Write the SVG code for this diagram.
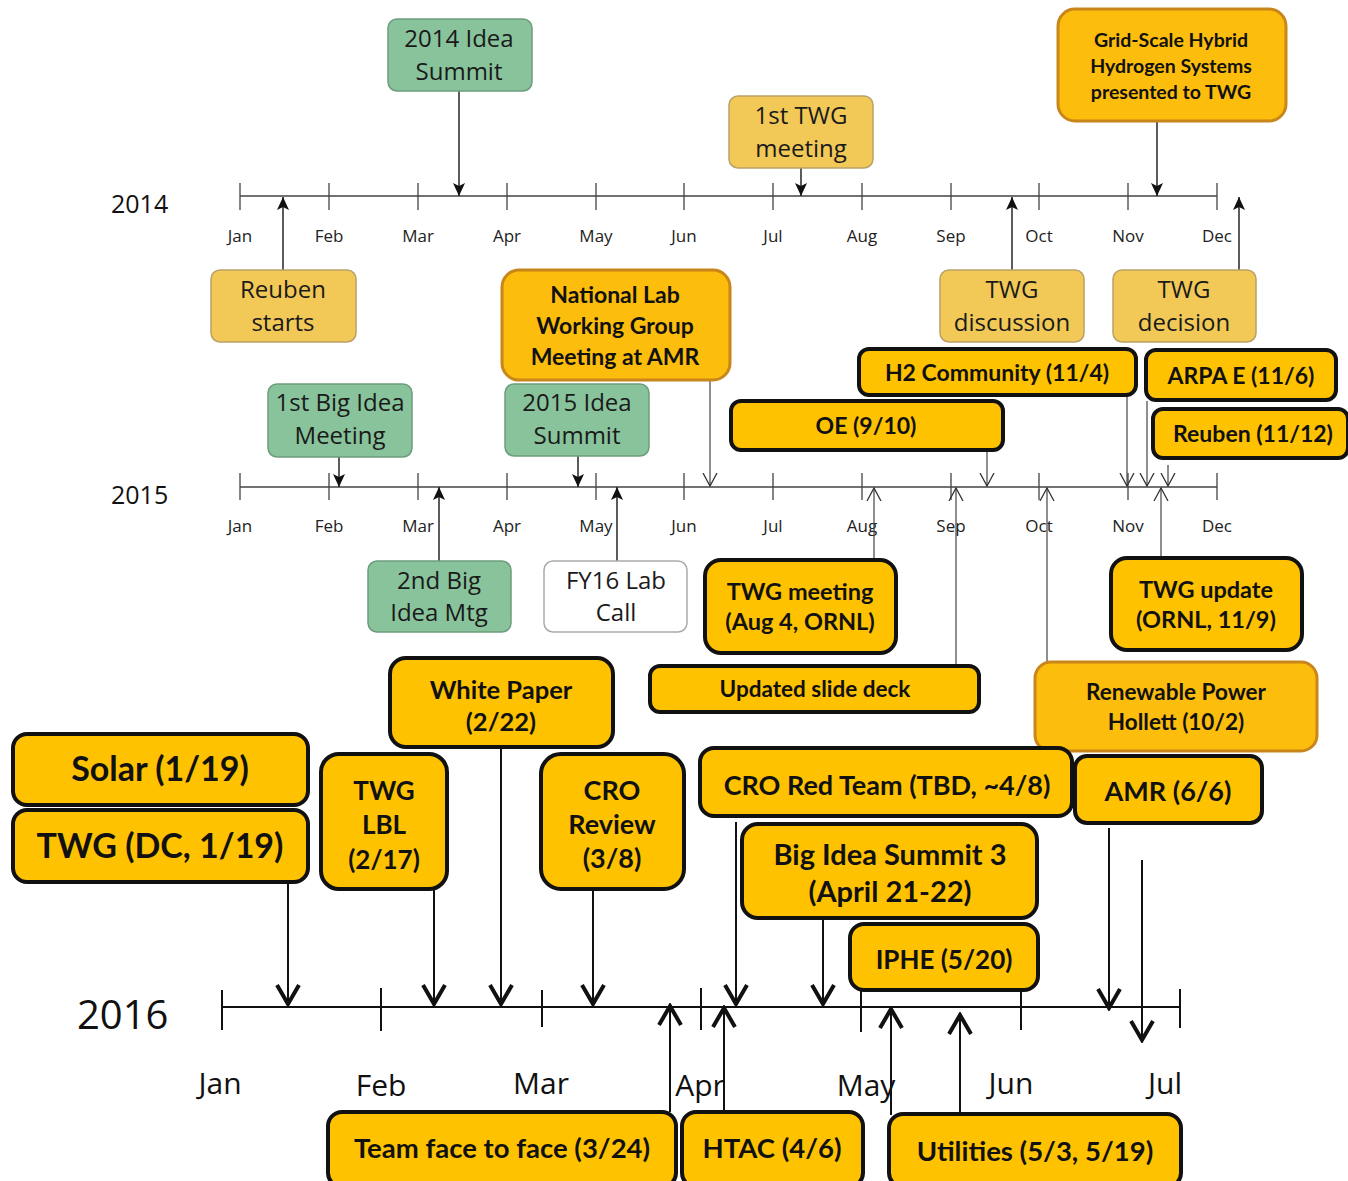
<svg xmlns="http://www.w3.org/2000/svg" width="1348" height="1181" viewBox="0 0 1348 1181">
<style>
  .axis { stroke:#444; stroke-width:1.3; fill:none; }
  .axis16 { stroke:#111; stroke-width:2; fill:none; }
  .conn { stroke:#333; stroke-width:1.6; fill:none; }
  .connt { stroke:#444; stroke-width:1.2; fill:none; }
  .conn16 { stroke:#111; stroke-width:2; fill:none; }
  .mon { font-family:"Open Sans","Liberation Sans",sans-serif; font-size:17px; font-weight:500; fill:#222; text-anchor:middle; }
  .mon16 { font-family:"Open Sans","Liberation Sans",sans-serif; font-size:30px; fill:#111; text-anchor:middle; }
  .year { font-family:"Open Sans","Liberation Sans",sans-serif; font-size:25px; fill:#111; }
  .green { fill:#88c39c; stroke:#6d9c7c; stroke-width:1.5; }
  .lyel { fill:#f2c957; stroke:#b9a168; stroke-width:1.5; }
  .white { fill:#fff; stroke:#aaa; stroke-width:1.5; }
  .gold { fill:#fdbd0c; stroke:#c8861b; stroke-width:3; }
  .blk { fill:#ffc200; stroke:#111; stroke-width:4; }
  .lt { font-family:"Open Sans","Liberation Sans",sans-serif; font-size:24px; fill:#1a1a1a; text-anchor:middle; }
  .bt { font-family:Lato,"Open Sans","Liberation Sans",sans-serif; font-weight:700; fill:#111; text-anchor:middle; }
</style>
<defs>
  <marker id="tri" viewBox="0 0 13 12" refX="13" refY="6" markerWidth="13" markerHeight="12" orient="auto" markerUnits="userSpaceOnUse">
    <path d="M0,0 L13,6 L0,12 L3,6 z" fill="#111"/>
  </marker>
  <marker id="vthin" viewBox="0 0 14 16" refX="13" refY="8" markerWidth="14" markerHeight="16" orient="auto" markerUnits="userSpaceOnUse">
    <path d="M0,1 L13,8 L0,15" fill="none" stroke="#333" stroke-width="1.3"/>
  </marker>
  <marker id="vthick" viewBox="0 0 24 26" refX="21" refY="13" markerWidth="24" markerHeight="26" orient="auto" markerUnits="userSpaceOnUse">
    <path d="M2,2 L21,13 L2,24" fill="none" stroke="#111" stroke-width="4" stroke-linejoin="miter"/>
  </marker>
</defs>
<rect width="1348" height="1181" fill="#fff"/>

<!-- Timelines -->
<g id="timeline-2014">
  <text class="year" x="111" y="213">2014</text>
  <path class="axis" d="M240,196 H1217 M240,183 V210 M329,183 V210 M418,183 V210 M507,183 V210 M596,183 V210 M684,183 V210 M773,183 V210 M862,183 V210 M951,183 V210 M1039,183 V210 M1128,183 V210 M1217,183 V210"/>
  <text class="mon" x="240" y="242">Jan</text><text class="mon" x="329" y="242">Feb</text><text class="mon" x="418" y="242">Mar</text><text class="mon" x="507" y="242">Apr</text><text class="mon" x="596" y="242">May</text><text class="mon" x="684" y="242">Jun</text><text class="mon" x="773" y="242">Jul</text><text class="mon" x="862" y="242">Aug</text><text class="mon" x="951" y="242">Sep</text><text class="mon" x="1039" y="242">Oct</text><text class="mon" x="1128" y="242">Nov</text><text class="mon" x="1217" y="242">Dec</text>
</g>
<g id="timeline-2015">
  <text class="year" x="111" y="504">2015</text>
  <path class="axis" d="M240,487 H1217 M240,473 V500 M329,473 V500 M418,473 V500 M507,473 V500 M596,473 V500 M684,473 V500 M773,473 V500 M862,473 V500 M951,473 V500 M1039,473 V500 M1128,473 V500 M1217,473 V500"/>
  <text class="mon" x="240" y="532">Jan</text><text class="mon" x="329" y="532">Feb</text><text class="mon" x="418" y="532">Mar</text><text class="mon" x="507" y="532">Apr</text><text class="mon" x="596" y="532">May</text><text class="mon" x="684" y="532">Jun</text><text class="mon" x="773" y="532">Jul</text><text class="mon" x="862" y="532">Aug</text><text class="mon" x="951" y="532">Sep</text><text class="mon" x="1039" y="532">Oct</text><text class="mon" x="1128" y="532">Nov</text><text class="mon" x="1217" y="532">Dec</text>
</g>
<g id="timeline-2016">
  <text x="77" y="1029" style="font-family:'Open Sans','Liberation Sans',sans-serif;font-size:40px;fill:#111">2016</text>
  <path class="axis16" d="M222,1007 H1180 M222,990 V1030 M381,988 V1031 M542,990 V1027 M701,988 V1030 M861,988 V1032 M1021,988 V1030 M1180,989 V1028"/>
  <text class="mon16" x="220" y="1094">Jan</text><text class="mon16" x="381" y="1096">Feb</text><text class="mon16" x="541" y="1094">Mar</text><text class="mon16" x="700" y="1096">Apr</text><text class="mon16" x="866" y="1096">May</text><text class="mon16" x="1011" y="1094">Jun</text><text class="mon16" x="1165" y="1094">Jul</text>
</g>

<!-- Connectors -->
<g id="connectors">
  <path class="conn" d="M459,91 V196" marker-end="url(#tri)"/>
  <path class="conn" d="M283,270 V197" marker-end="url(#tri)"/>
  <path class="conn" d="M801,168 V196" marker-end="url(#tri)"/>
  <path class="conn" d="M1157,122 V196" marker-end="url(#tri)"/>
  <path class="conn" d="M1012,270 V197" marker-end="url(#tri)"/>
  <path class="conn" d="M1239,270 V197" marker-end="url(#tri)"/>

  <path class="conn" d="M339,457 V487" marker-end="url(#tri)"/>
  <path class="conn" d="M439,561 V487" marker-end="url(#tri)"/>
  <path class="conn" d="M578,456 V487" marker-end="url(#tri)"/>
  <path class="conn" d="M617,561 V487" marker-end="url(#tri)"/>

  <path class="connt" d="M710,380 V486" marker-end="url(#vthin)"/>
  <path class="connt" d="M987,450 V486" marker-end="url(#vthin)"/>
  <path class="connt" d="M1127,395 V486" marker-end="url(#vthin)"/>
  <path class="connt" d="M1147,401 V486" marker-end="url(#vthin)"/>
  <path class="connt" d="M1168,465 V486" marker-end="url(#vthin)"/>
  <path class="connt" d="M874,559 V488" marker-end="url(#vthin)"/>
  <path class="connt" d="M956,665 V488" marker-end="url(#vthin)"/>
  <path class="connt" d="M1161,557 V488" marker-end="url(#vthin)"/>
  <path class="connt" d="M1047,662 V488" marker-end="url(#vthin)"/>

  <path class="conn16" d="M288,883 V1004" marker-end="url(#vthick)"/>
  <path class="conn16" d="M434,890 V1004" marker-end="url(#vthick)"/>
  <path class="conn16" d="M501,748 V1004" marker-end="url(#vthick)"/>
  <path class="conn16" d="M593,883 V1004" marker-end="url(#vthick)"/>
  <path class="conn16" d="M736,822 V1004" marker-end="url(#vthick)"/>
  <path class="conn16" d="M823,920 V1004" marker-end="url(#vthick)"/>
  <path class="conn16" d="M1109,828 V1008" marker-end="url(#vthick)"/>
  <path class="conn16" d="M1142,860 V1040" marker-end="url(#vthick)"/>
  <path class="conn16" d="M670,1112 V1006" marker-end="url(#vthick)"/>
  <path class="conn16" d="M724,1112 V1008" marker-end="url(#vthick)"/>
  <path class="conn16" d="M891,1115 V1009" marker-end="url(#vthick)"/>
  <path class="conn16" d="M960,1120 V1015" marker-end="url(#vthick)"/>
</g>

<!-- 2014 nodes -->
<g id="n-2014-idea-summit"><rect class="green" x="388" y="19" width="144" height="72" rx="9"/><text class="lt" x="459" y="47">2014 Idea</text><text class="lt" x="459" y="80">Summit</text></g>
<g id="n-reuben-starts"><rect class="lyel" x="211" y="270" width="145" height="72" rx="9"/><text class="lt" x="283" y="298">Reuben</text><text class="lt" x="283" y="331">starts</text></g>
<g id="n-1st-twg"><rect class="lyel" x="729" y="96" width="144" height="72" rx="9"/><text class="lt" x="801" y="124">1st TWG</text><text class="lt" x="801" y="157">meeting</text></g>
<g id="n-grid-scale"><rect class="gold" x="1058" y="9" width="228" height="112" rx="17"/><text class="bt" x="1171" y="47" font-size="19.5">Grid-Scale Hybrid</text><text class="bt" x="1171" y="73" font-size="19.5">Hydrogen Systems</text><text class="bt" x="1171" y="99" font-size="19.5">presented to TWG</text></g>
<g id="n-twg-discussion"><rect class="lyel" x="940" y="270" width="144" height="72" rx="9"/><text class="lt" x="1012" y="298">TWG</text><text class="lt" x="1012" y="331">discussion</text></g>
<g id="n-twg-decision"><rect class="lyel" x="1113" y="270" width="143" height="72" rx="9"/><text class="lt" x="1184" y="298">TWG</text><text class="lt" x="1184" y="331">decision</text></g>

<!-- 2015 nodes -->
<g id="n-national-lab"><rect class="gold" x="502" y="270" width="228" height="110" rx="17"/><text class="bt" x="615" y="303" font-size="23">National Lab</text><text class="bt" x="615" y="334" font-size="23">Working Group</text><text class="bt" x="615" y="365" font-size="23">Meeting at AMR</text></g>
<g id="n-1st-big-idea"><rect class="green" x="268" y="384" width="144" height="73" rx="9"/><text class="lt" x="340" y="411">1st Big Idea</text><text class="lt" x="340" y="444">Meeting</text></g>
<g id="n-2015-idea-summit"><rect class="green" x="505" y="384" width="144" height="72" rx="9"/><text class="lt" x="577" y="411">2015 Idea</text><text class="lt" x="577" y="444">Summit</text></g>
<g id="n-2nd-big-idea"><rect class="green" x="368" y="561" width="143" height="71" rx="9"/><text class="lt" x="439" y="589">2nd Big</text><text class="lt" x="439" y="621">Idea Mtg</text></g>
<g id="n-fy16"><rect class="white" x="544" y="561" width="143" height="71" rx="9"/><text class="lt" x="616" y="589">FY16 Lab</text><text class="lt" x="616" y="621">Call</text></g>
<g id="n-h2-community"><rect class="blk" x="859" y="349" width="277" height="46" rx="10"/><text class="bt" x="997" y="381" font-size="23">H2 Community (11/4)</text></g>
<g id="n-oe"><rect class="blk" x="731" y="401" width="272" height="49" rx="10"/><text class="bt" x="866" y="434" font-size="23">OE (9/10)</text></g>
<g id="n-arpa-e"><rect class="blk" x="1146" y="350" width="190" height="50" rx="10"/><text class="bt" x="1241" y="384" font-size="23">ARPA E (11/6)</text></g>
<g id="n-reuben-1112"><rect class="blk" x="1153" y="409" width="195" height="49" rx="10"/><text class="bt" x="1253" y="442" font-size="23">Reuben (11/12)</text></g>
<g id="n-twg-aug4"><rect class="blk" x="705" y="560" width="191" height="93" rx="16"/><text class="bt" x="800" y="600" font-size="23.5">TWG meeting</text><text class="bt" x="800" y="630" font-size="23.5">(Aug 4, ORNL)</text></g>
<g id="n-slide-deck"><rect class="blk" x="650" y="666" width="329" height="46" rx="10"/><text class="bt" x="815" y="697" font-size="22.5">Updated slide deck</text></g>
<g id="n-twg-update"><rect class="blk" x="1111" y="558" width="191" height="92" rx="16"/><text class="bt" x="1206" y="598" font-size="23.5">TWG update</text><text class="bt" x="1206" y="628" font-size="23.5">(ORNL, 11/9)</text></g>
<g id="n-renewable"><rect class="gold" x="1035" y="662" width="282" height="89" rx="16"/><text class="bt" x="1176" y="700" font-size="22.5">Renewable Power</text><text class="bt" x="1176" y="730" font-size="22.5">Hollett (10/2)</text></g>

<!-- 2016 nodes -->
<g id="n-solar"><rect class="blk" x="13" y="734" width="295" height="71" rx="14"/><text class="bt" x="160" y="781" font-size="34">Solar (1/19)</text></g>
<g id="n-twg-dc"><rect class="blk" x="13" y="810" width="295" height="72" rx="14"/><text class="bt" x="160" y="858" font-size="34">TWG (DC, 1/19)</text></g>
<g id="n-twg-lbl"><rect class="blk" x="321" y="754" width="126" height="135" rx="18"/><text class="bt" x="384" y="800" font-size="26">TWG</text><text class="bt" x="384" y="834" font-size="26">LBL</text><text class="bt" x="384" y="869" font-size="26">(2/17)</text></g>
<g id="n-white-paper"><rect class="blk" x="390" y="658" width="223" height="89" rx="16"/><text class="bt" x="501" y="699" font-size="25.5">White Paper</text><text class="bt" x="501" y="731" font-size="25.5">(2/22)</text></g>
<g id="n-cro-review"><rect class="blk" x="541" y="754" width="143" height="135" rx="20"/><text class="bt" x="612" y="800" font-size="27">CRO</text><text class="bt" x="612" y="834" font-size="27">Review</text><text class="bt" x="612" y="868" font-size="27">(3/8)</text></g>
<g id="n-cro-red"><rect class="blk" x="700" y="748" width="372" height="68" rx="14"/><text class="bt" x="887" y="795" font-size="27">CRO Red Team (TBD, ~4/8)</text></g>
<g id="n-big-idea-3"><rect class="blk" x="742" y="824" width="295" height="94" rx="16"/><text class="bt" x="890" y="865" font-size="29">Big Idea Summit 3</text><text class="bt" x="890" y="902" font-size="29">(April 21-22)</text></g>
<g id="n-iphe"><rect class="blk" x="850" y="924" width="188" height="66" rx="14"/><text class="bt" x="944" y="969" font-size="26">IPHE (5/20)</text></g>
<g id="n-amr"><rect class="blk" x="1075" y="756" width="187" height="67" rx="12"/><text class="bt" x="1168" y="801" font-size="27">AMR (6/6)</text></g>
<g id="n-team-f2f"><rect class="blk" x="328" y="1112" width="348" height="75" rx="14"/><text class="bt" x="502" y="1158" font-size="27.5">Team face to face (3/24)</text></g>
<g id="n-htac"><rect class="blk" x="682" y="1112" width="181" height="75" rx="14"/><text class="bt" x="772" y="1158" font-size="27.5">HTAC (4/6)</text></g>
<g id="n-utilities"><rect class="blk" x="889" y="1114" width="292" height="73" rx="14"/><text class="bt" x="1035" y="1161" font-size="27.5">Utilities (5/3, 5/19)</text></g>
</svg>
